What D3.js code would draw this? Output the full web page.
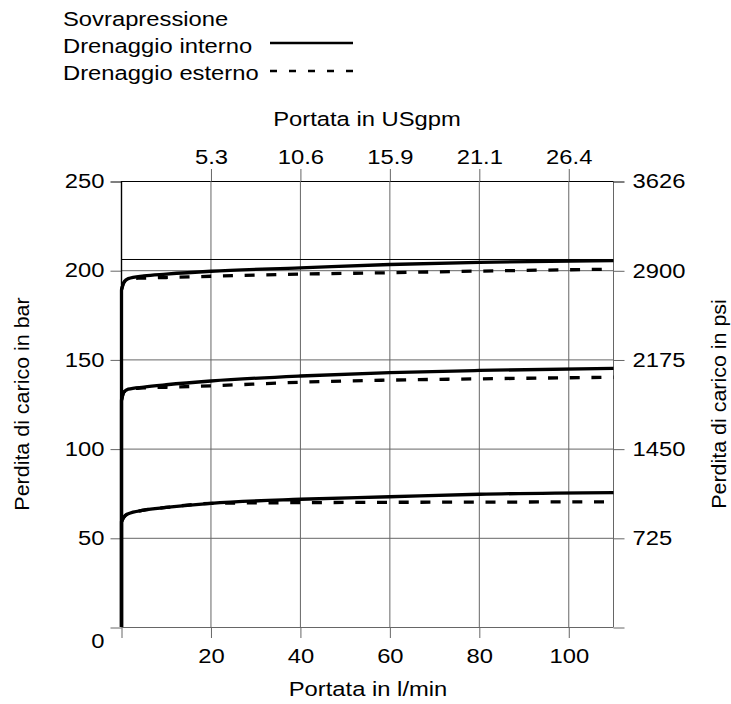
<!DOCTYPE html>
<html>
<head>
<meta charset="utf-8">
<script src="https://cdn.jsdelivr.net/npm/d3@7"></script>
<style>
  body { margin: 0; background: #fff; }
  text { font-family: "Liberation Sans", Arial, Helvetica, sans-serif; font-size: 19.5px; fill: #000; }
</style>
</head>
<body>
<div id="chart"></div>
<script>
// values
var flow = [0, 0.5, 1.5, 5, 10, 20, 40, 60, 80, 110];       // l/min
var intHigh = [189, 193, 195.3, 196.8, 197.8, 199.4, 201.3, 203.2, 204.4, 205.4];
var extHigh = [189, 193, 195.3, 195.6, 195.9, 196.6, 197.8, 198.6, 199.5, 200.6];
var intMid  = [127, 131.5, 133.3, 134.5, 135.8, 137.9, 140.7, 142.6, 143.8, 145];
var extMid  = [127, 131.5, 133.3, 134, 134.4, 135.2, 137.2, 138.4, 139.1, 140];
var intLow  = [59, 61.5, 63.5, 65.5, 67, 69.3, 71.6, 73, 74.4, 75.3];
var extLow  = [59, 61.5, 63.5, 65.5, 67, 69.3, 69.7, 69.9, 70.0, 70.2];

var lpmTicks = [0, 20, 40, 60, 80, 100];
var usgTicks = [20, 40, 60, 80, 100];
var usgLabels = ["5.3", "10.6", "15.9", "21.1", "26.4"];
var barTicks = [0, 50, 100, 150, 200, 250];
var psiTicks = [0, 725, 1450, 2175, 2900, 3626];
var refLine = 206;   // thin line just above 200 bar

var legendItems = ["Sovrapressione", "Drenaggio interno", "Drenaggio esterno"];

var W = 731, H = 704;
var SX = 1.22;  // text in the picture is horizontally stretched

var svg = d3.select("#chart").append("svg")
    .attr("width", W)
    .attr("height", H);

var x = d3.scaleLinear().domain([0, 110]).range([121.5, 613.5]);
var y = d3.scaleLinear().domain([0, 250]).range([627, 181]);
var psi = d3.scaleLinear().domain([0, 3626]).range([627, 181]);

function stretch(sel) {
  sel.each(function() {
    var t = d3.select(this);
    var tx = +t.attr("x") || 0;
    t.attr("x", tx / SX).attr("transform", "scale(" + SX + ",1)");
  });
}

function label(s, tx, ty, anchor, rot, sx) {
  return svg.append("text")
    .attr("transform", "translate(" + tx + "," + ty + ")" + (rot ? " rotate(" + rot + ")" : "") + " scale(" + (sx || SX) + ",1)")
    .attr("text-anchor", anchor || "start")
    .text(s);
}

// grid
var grid = svg.append("g");
grid.selectAll(".hg")
  .data(barTicks)
  .enter().append("line")
  .attr("x1", x(0)).attr("x2", x(110))
  .attr("y1", function(d) { return y(d) + 0.5; })
  .attr("y2", function(d) { return y(d) + 0.5; })
  .attr("stroke", function(d) { return d === 250 ? "#000" : "#666"; })
  .attr("stroke-width", 1);
grid.selectAll(".vg")
  .data(usgTicks)
  .enter().append("line")
  .attr("x1", function(d) { return x(d); })
  .attr("x2", function(d) { return x(d); })
  .attr("y1", y(250)).attr("y2", y(0))
  .attr("stroke", "#666")
  .attr("stroke-width", 1);
grid.append("line")
  .attr("x1", x(0)).attr("x2", x(110))
  .attr("y1", y(refLine)).attr("y2", y(refLine))
  .attr("stroke", "#000").attr("stroke-width", 1);
grid.append("line")
  .attr("x1", x(110)).attr("x2", x(110))
  .attr("y1", y(250)).attr("y2", y(0))
  .attr("stroke", "#666").attr("stroke-width", 1);

// axes
var axLeft = svg.append("g")
  .attr("transform", "translate(" + x(0) + ",0.5)")
  .call(d3.axisLeft(y).tickValues(barTicks).tickSize(11).tickPadding(6));
var axRight = svg.append("g")
  .attr("transform", "translate(" + x(110) + ",0.5)")
  .call(d3.axisRight(psi).tickValues(psiTicks).tickSize(11).tickPadding(8)
        .tickFormat(function(d) { return d === 0 ? "" : d; }));
var axTop = svg.append("g")
  .attr("transform", "translate(0," + y(250) + ")")
  .call(d3.axisTop(x).tickValues(usgTicks).tickSize(12).tickPadding(5)
        .tickFormat(function(d, i) { return usgLabels[i]; }));
var axBottom = svg.append("g")
  .attr("transform", "translate(0," + y(0) + ")")
  .call(d3.axisBottom(x).tickValues(lpmTicks).tickSize(11).tickPadding(11)
        .tickFormat(function(d) { return d === 0 ? "" : d; }));

[axLeft, axRight, axTop, axBottom].forEach(function(a) {
  a.attr("font-size", null).attr("font-family", null);
  a.select(".domain").remove();
  a.selectAll("line").attr("stroke", "#666");
  a.selectAll("text").call(stretch);
});
axLeft.selectAll(".tick").filter(function(d) { return d === 250; }).select("line").attr("stroke", "#000");
axRight.selectAll(".tick").filter(function(d) { return d === 3626; }).select("line").attr("stroke", "#000");
axLeft.selectAll(".tick").filter(function(d) { return d === 0; }).select("text").attr("dy", "1.05em");

svg.append("line")
  .attr("x1", x(0)).attr("x2", x(0))
  .attr("y1", y(250)).attr("y2", y(0))
  .attr("stroke", "#000").attr("stroke-width", 1.4);

// curves
var lineGen = d3.line()
  .x(function(d) { return x(d[0]); })
  .y(function(d) { return y(d[1]); })
  .curve(d3.curveMonotoneX);

function solidPath(vals) {
  var pts = flow.map(function(f, i) { return [f, vals[i]]; });
  return "M" + x(0) + "," + y(0) + "L" + lineGen(pts).substring(1);
}
function dashPath(vals) {
  var pts = flow.map(function(f, i) { return [f, vals[i]]; });
  return lineGen(pts);
}

var curves = svg.append("g").attr("fill", "none").attr("stroke", "#000");
[extHigh, extMid, extLow].forEach(function(v) {
  curves.append("path")
    .attr("d", dashPath(v))
    .attr("stroke-width", 3.3)
    .attr("stroke-dasharray", "10,11.7");
});
[intHigh, intMid, intLow].forEach(function(v) {
  curves.append("path")
    .attr("d", solidPath(v))
    .attr("stroke-width", 3.3)
    .attr("stroke-linejoin", "round");
});

// titles
label("Portata in USgpm", 367, 126, "middle");
label("Portata in l/min", 368, 696, "middle");
label("Perdita di carico in bar", 29, 404, "middle", -90, 1.1);
label("Perdita di carico in psi", 726, 404, "middle", -90, 1.1);

// legend
legendItems.forEach(function(s, i) {
  label(s, 63, 26 + i * 27);
});
svg.append("line")
  .attr("x1", 270).attr("x2", 353).attr("y1", 43).attr("y2", 43)
  .attr("stroke", "#000").attr("stroke-width", 2.4);
svg.append("line")
  .attr("x1", 270).attr("x2", 353).attr("y1", 71).attr("y2", 71)
  .attr("stroke", "#000").attr("stroke-width", 2.4)
  .attr("stroke-dasharray", "7,12");
</script>
</body>
</html>
